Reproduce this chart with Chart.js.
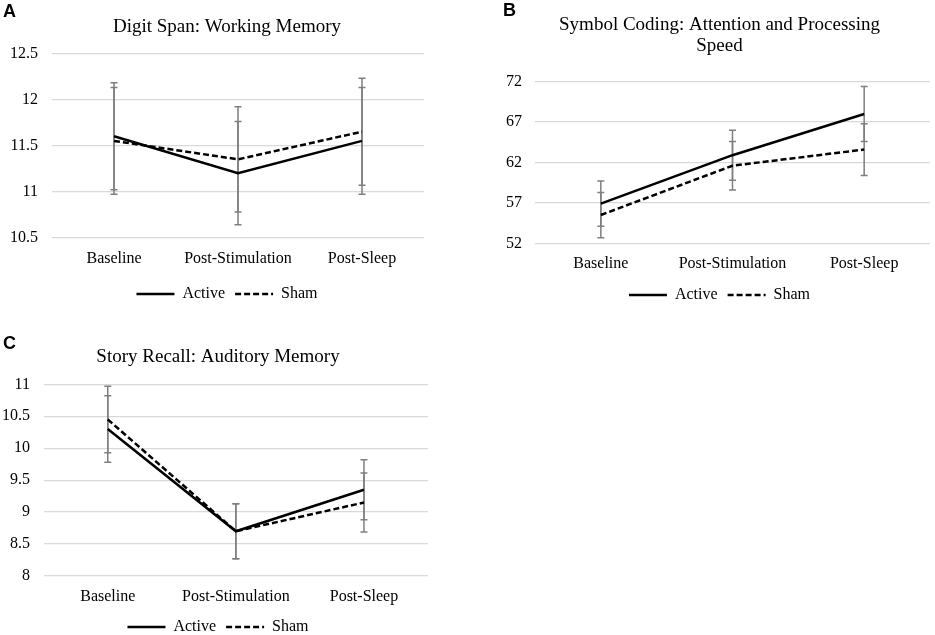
<!DOCTYPE html>
<html>
<head>
<meta charset="utf-8">
<script src="https://cdn.jsdelivr.net/npm/chart.js@4/dist/chart.umd.min.js"></script>
<style>
  html, body { margin: 0; padding: 0; background: #fff; width: 935px; height: 635px; overflow: hidden; }
  .wrap { position: absolute; }
  .letter { position: absolute; font-family: "Liberation Sans", Arial, sans-serif; font-weight: bold; font-size: 18px; line-height: 18px; color: #000; }
</style>
</head>
<body>
<div class="wrap" style="left:0;top:0;width:467px;height:312px;"><canvas id="chartA"></canvas></div>
<div class="wrap" style="left:460px;top:0;width:475px;height:313px;"><canvas id="chartB"></canvas></div>
<div class="wrap" style="left:0;top:320px;width:467px;height:325px;"><canvas id="chartC"></canvas></div>
<div class="letter" style="left:3px;top:2px;">A</div>
<div class="letter" style="left:503px;top:1px;">B</div>
<div class="letter" style="left:3px;top:334px;">C</div>
<script>
// ---- data ----
const categories = ['Baseline', 'Post-Stimulation', 'Post-Sleep'];
const seriesNames = ['Active', 'Sham'];

const digitTitle = 'Digit Span: Working Memory';
const digitActive = [11.6, 11.2, 11.55];
const digitActiveErr = [0.58, 0.56, 0.58];
const digitSham = [11.55, 11.35, 11.65];
const digitShamErr = [0.58, 0.57, 0.58];
const digitTicks = [10.5, 11, 11.5, 12, 12.5];

const symbolTitle = ['Symbol Coding: Attention and Processing', 'Speed'];
const symbolActive = [56.9, 62.9, 68.0];
const symbolActiveErr = [2.8, 3.1, 3.4];
const symbolSham = [55.5, 61.6, 63.6];
const symbolShamErr = [2.8, 3.0, 3.2];
const symbolTicks = [52, 57, 62, 67, 72];

const storyTitle = 'Story Recall: Auditory Memory';
const storyActive = [10.3, 8.7, 9.35];
const storyActiveErr = [0.52, 0.43, 0.47];
const storySham = [10.45, 8.7, 9.15];
const storyShamErr = [0.52, 0.43, 0.46];
const storyTicks = [8, 8.5, 9, 9.5, 10, 10.5, 11];

// ---- error bar plugin ----
const errorBarPlugin = {
  id: 'errorBars',
  beforeDatasetsDraw(chart) {
    const { ctx } = chart;
    const xs = chart.scales.x, ys = chart.scales.y;
    ctx.save();
    ctx.strokeStyle = '#7f7f7f';
    ctx.lineWidth = 1.5;
    ctx.setLineDash([]);
    chart.data.datasets.forEach(ds => {
      (ds.errors || []).forEach((e, i) => {
        const px = xs.getPixelForValue(i);
        const yTop = ys.getPixelForValue(ds.data[i] + e);
        const yBot = ys.getPixelForValue(ds.data[i] - e);
        ctx.beginPath();
        ctx.moveTo(px, yTop); ctx.lineTo(px, yBot);
        ctx.moveTo(px - 3.5, yTop); ctx.lineTo(px + 3.5, yTop);
        ctx.moveTo(px - 3.5, yBot); ctx.lineTo(px + 3.5, yBot);
        ctx.stroke();
      });
    });
    ctx.restore();
  }
};

const SERIF = '"Liberation Serif", "Times New Roman", serif';

function legendLabels(chart) {
  return Chart.defaults.plugins.legend.labels.generateLabels(chart).map((item, i) => {
    const ds = chart.data.datasets[i];
    item.lineDash = ds.borderDash || [];
    item.lineWidth = ds.borderWidth;
    item.strokeStyle = ds.borderColor;
    return item;
  });
}

function makeChart(id, cfg) {
  const ticks = cfg.ticks;
  return new Chart(document.getElementById(id), {
    type: 'line',
    data: {
      labels: categories,
      datasets: [
        { label: seriesNames[0], data: cfg.active, errors: cfg.activeErr, borderColor: '#000', backgroundColor: '#000',
          borderWidth: 2.5, pointRadius: 0, pointHoverRadius: 0, tension: 0, fill: false },
        { label: seriesNames[1], data: cfg.sham, errors: cfg.shamErr, borderColor: '#000', backgroundColor: '#000',
          borderWidth: 2.5, borderDash: [6, 3], pointRadius: 0, pointHoverRadius: 0, tension: 0, fill: false }
      ]
    },
    options: {
      responsive: true,
      maintainAspectRatio: false,
      animation: false,
      layout: { padding: cfg.pad },
      plugins: {
        title: { display: true, text: cfg.title, color: '#000',
          font: { family: SERIF, size: 19, weight: 'normal', lineHeight: 1.1 },
          padding: cfg.titlePad },
        legend: { display: true, position: 'bottom',
          labels: { color: '#000', font: { family: SERIF, size: 16 }, usePointStyle: true,
            pointStyle: 'line', pointStyleWidth: 38, padding: 10, generateLabels: legendLabels } },
        tooltip: { enabled: false }
      },
      scales: {
        x: {
          offset: true,
          grid: { display: false, drawTicks: false },
          border: { display: false },
          ticks: { color: '#000', font: { family: SERIF, size: 16 }, padding: cfg.xPad, maxRotation: 0, autoSkip: false },
          afterFit: s => { s.height = cfg.xHeight; }
        },
        y: {
          min: ticks[0], max: ticks[ticks.length - 1],
          grid: { color: '#d9d9d9', lineWidth: 1.3, drawTicks: false },
          border: { display: false },
          ticks: { stepSize: ticks[1] - ticks[0], color: '#000', font: { family: SERIF, size: 16 }, padding: cfg.yPad,
            callback: v => String(Number(v.toFixed(2))) },
          afterFit: s => { s.width = cfg.yWidth; }
        },
        y2: {
          position: 'right',
          grid: { display: false, drawTicks: false },
          border: { display: false },
          ticks: { display: false },
          afterFit: s => { s.width = cfg.rightGap; }
        }
      }
    },
    plugins: [errorBarPlugin]
  });
}

makeChart('chartA', {
  title: digitTitle, active: digitActive, activeErr: digitActiveErr, sham: digitSham, shamErr: digitShamErr,
  ticks: digitTicks, pad: { left: 10, right: 23, top: 0, bottom: 0 }, titlePad: { top: 16.5, bottom: 15.9 },
  yWidth: 42, yPad: 14, rightGap: 20, xHeight: 38.3, xPad: 11
});
makeChart('chartB', {
  title: symbolTitle, active: symbolActive, activeErr: symbolActiveErr, sham: symbolSham, shamErr: symbolShamErr,
  ticks: symbolTicks, pad: { left: 44, right: 0, top: 0, bottom: 0 }, titlePad: { top: 14.85, bottom: 25 },
  yWidth: 31, yPad: 13, rightGap: 5, xHeight: 33.7, xPad: 11
});
makeChart('chartC', {
  title: storyTitle, active: storyActive, activeErr: storyActiveErr, sham: storySham, shamErr: storyShamErr,
  ticks: storyTicks, pad: { left: 0, right: 31, top: 0, bottom: 0 }, titlePad: { top: 26.55, bottom: 16.85 },
  yWidth: 43.7, yPad: 13.7, rightGap: 8, xHeight: 33, xPad: 11
});
</script>
</body>
</html>
